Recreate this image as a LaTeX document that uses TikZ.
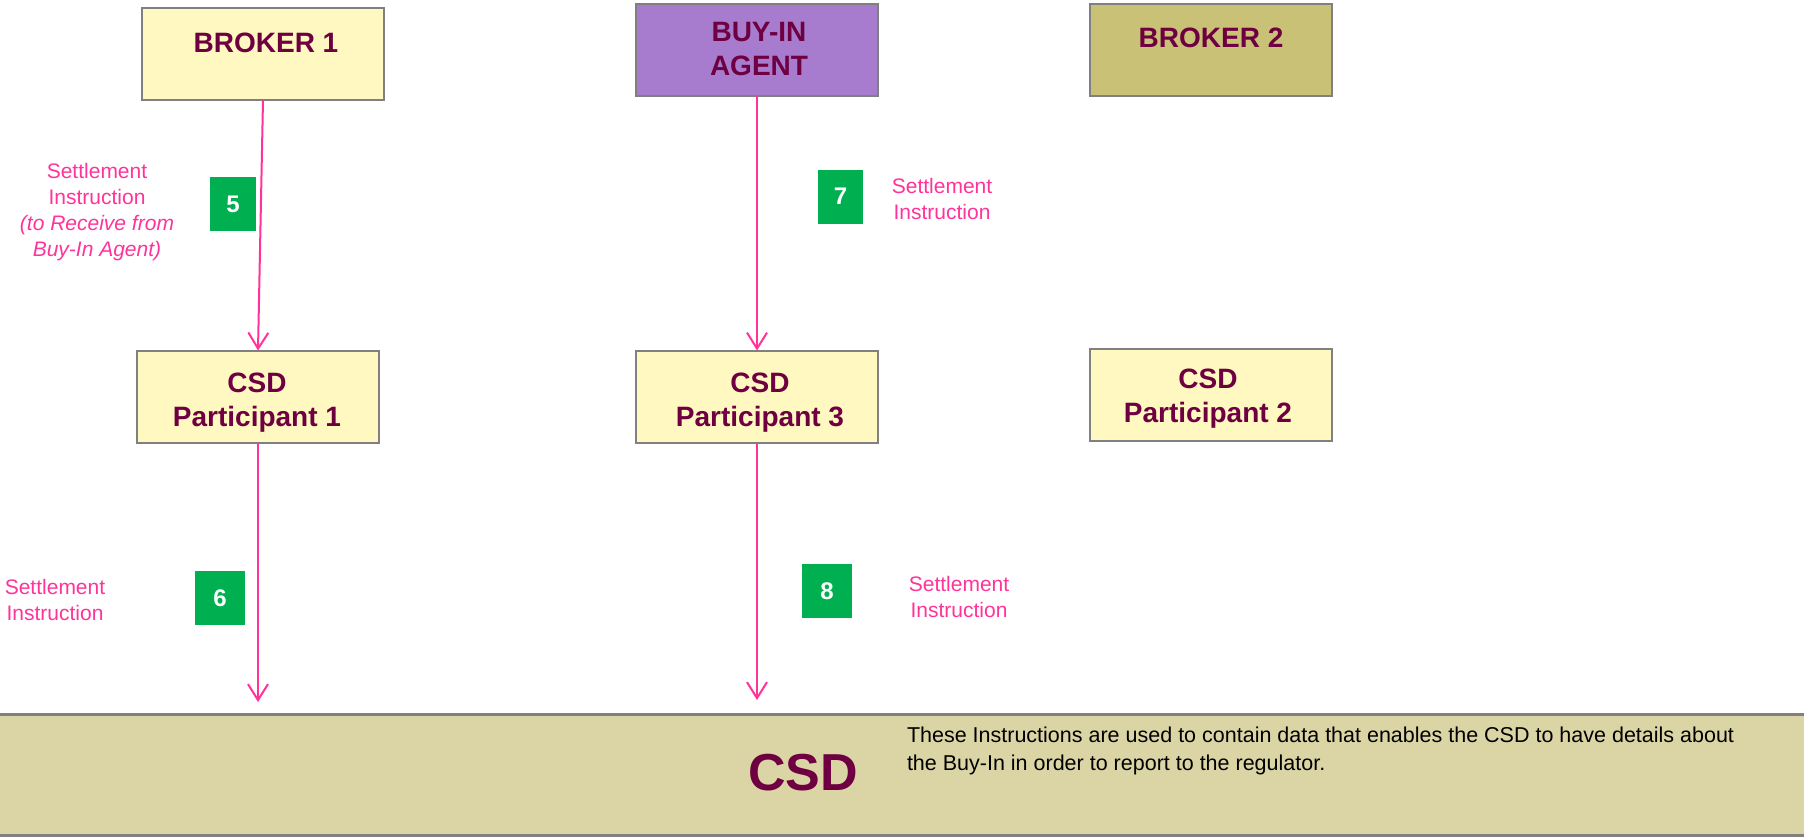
\documentclass[tikz,border=0pt]{standalone}
\usepackage{fontspec}
\setmainfont{Liberation Sans}
\usetikzlibrary{arrows.meta}
\definecolor{boxyellow}{HTML}{FFF8C1}
\definecolor{agentpurple}{HTML}{A77BCE}
\definecolor{brokerolive}{HTML}{C8C176}
\definecolor{bandfill}{HTML}{DBD5A5}
\definecolor{boxgray}{HTML}{808080}
\definecolor{maroon}{HTML}{6E0041}
\definecolor{msgpink}{HTML}{FF3399}
\definecolor{stepgreen}{HTML}{00B050}
\begin{document}
\begin{tikzpicture}[x=0.5pt,y=-0.5pt,
  every node/.style={inner sep=0pt, outer sep=0pt},
  entity/.style={draw=boxgray, line width=1pt, minimum width=121pt, minimum height=46pt},
  entitytext/.style={font=\bfseries\fontsize{14}{17}\selectfont, text=maroon, align=center},
  stepnum/.style={fill=stepgreen, text=white, minimum width=24pt, minimum height=27pt,
    font=\bfseries\fontsize{12}{14}\selectfont},
  msg/.style={text=msgpink, align=center, font=\fontsize{10.5}{13}\selectfont},
  flow/.style={draw=msgpink, line width=1pt, -{Straight Barb[length=8pt,width=10pt]}},
]
\useasboundingbox (0,0) rectangle (1804,837);

% CSD band along the bottom
\node[fill=bandfill, minimum width=920pt, minimum height=60.5pt] (csd) at (902,774.5) {};
\draw[boxgray, line width=1.5pt] (csd.north west) -- (csd.north east);
\draw[boxgray, line width=1.5pt] (csd.south west) -- (csd.south east);
\node[font=\bfseries\fontsize{26}{30}\selectfont, text=maroon] (csdlabel) at (803,773) {CSD};
\node[anchor=west, align=left, font=\fontsize{10.75}{13.8}\selectfont] (csdnote) at (907,751)
  {These Instructions are used to contain data that enables the CSD to have details about\\
   the Buy-In in order to report to the regulator.};

% top row
\node[entity, fill=boxyellow] (b1) at (263,54) {};
\node[entitytext] (b1t) at (266,43) {BROKER 1};
\node[entity, fill=agentpurple] (bi) at (757,49.5) {};
\node[entitytext] (bit) at (759,49) {BUY-IN\\AGENT};
\node[entity, fill=brokerolive] (b2) at (1210.5,50) {};
\node[entitytext] (b2t) at (1211,38) {BROKER 2};

% participants
\node[entity, fill=boxyellow] (p1) at (258,396.5) {};
\node[entitytext] (p1t) at (257,403) {CSD\\Participant 1};
\node[entity, fill=boxyellow] (p3) at (757,396.5) {};
\node[entitytext] (p3t) at (760,403) {CSD\\Participant 3};
\node[entity, fill=boxyellow] (p2) at (1210.5,395) {};
\node[entitytext] (p2t) at (1208,398.5) {CSD\\Participant 2};

% instruction flows
\draw[flow] (b1.south) -- (p1.north);
\draw[flow, shorten >=6pt] (p1.south) -- (p1.south |- csd.north);
\draw[flow] (bi.south) -- (p3.north);
\draw[flow, shorten >=7pt] (p3.south) -- (p3.south |- csd.north);

% step numbers
\node[stepnum, minimum width=23pt] (s5) at (233,204) {5};
\node[stepnum, minimum width=25pt] (s6) at (220,598) {6};
\node[stepnum, minimum width=22.5pt] (s7) at (840.5,196.5) {7};
\node[stepnum, minimum width=25pt] (s8) at (827,591) {8};

% flow labels
\node[msg] (m5) at (97,212) {Settlement\\Instruction\\\textit{(to Receive from}\\\textit{Buy-In Agent)}};
\node[msg] (m6) at (55,600) {Settlement\\Instruction};
\node[msg] (m7) at (942,199) {Settlement\\Instruction};
\node[msg] (m8) at (959,597) {Settlement\\Instruction};
\end{tikzpicture}
\end{document}
